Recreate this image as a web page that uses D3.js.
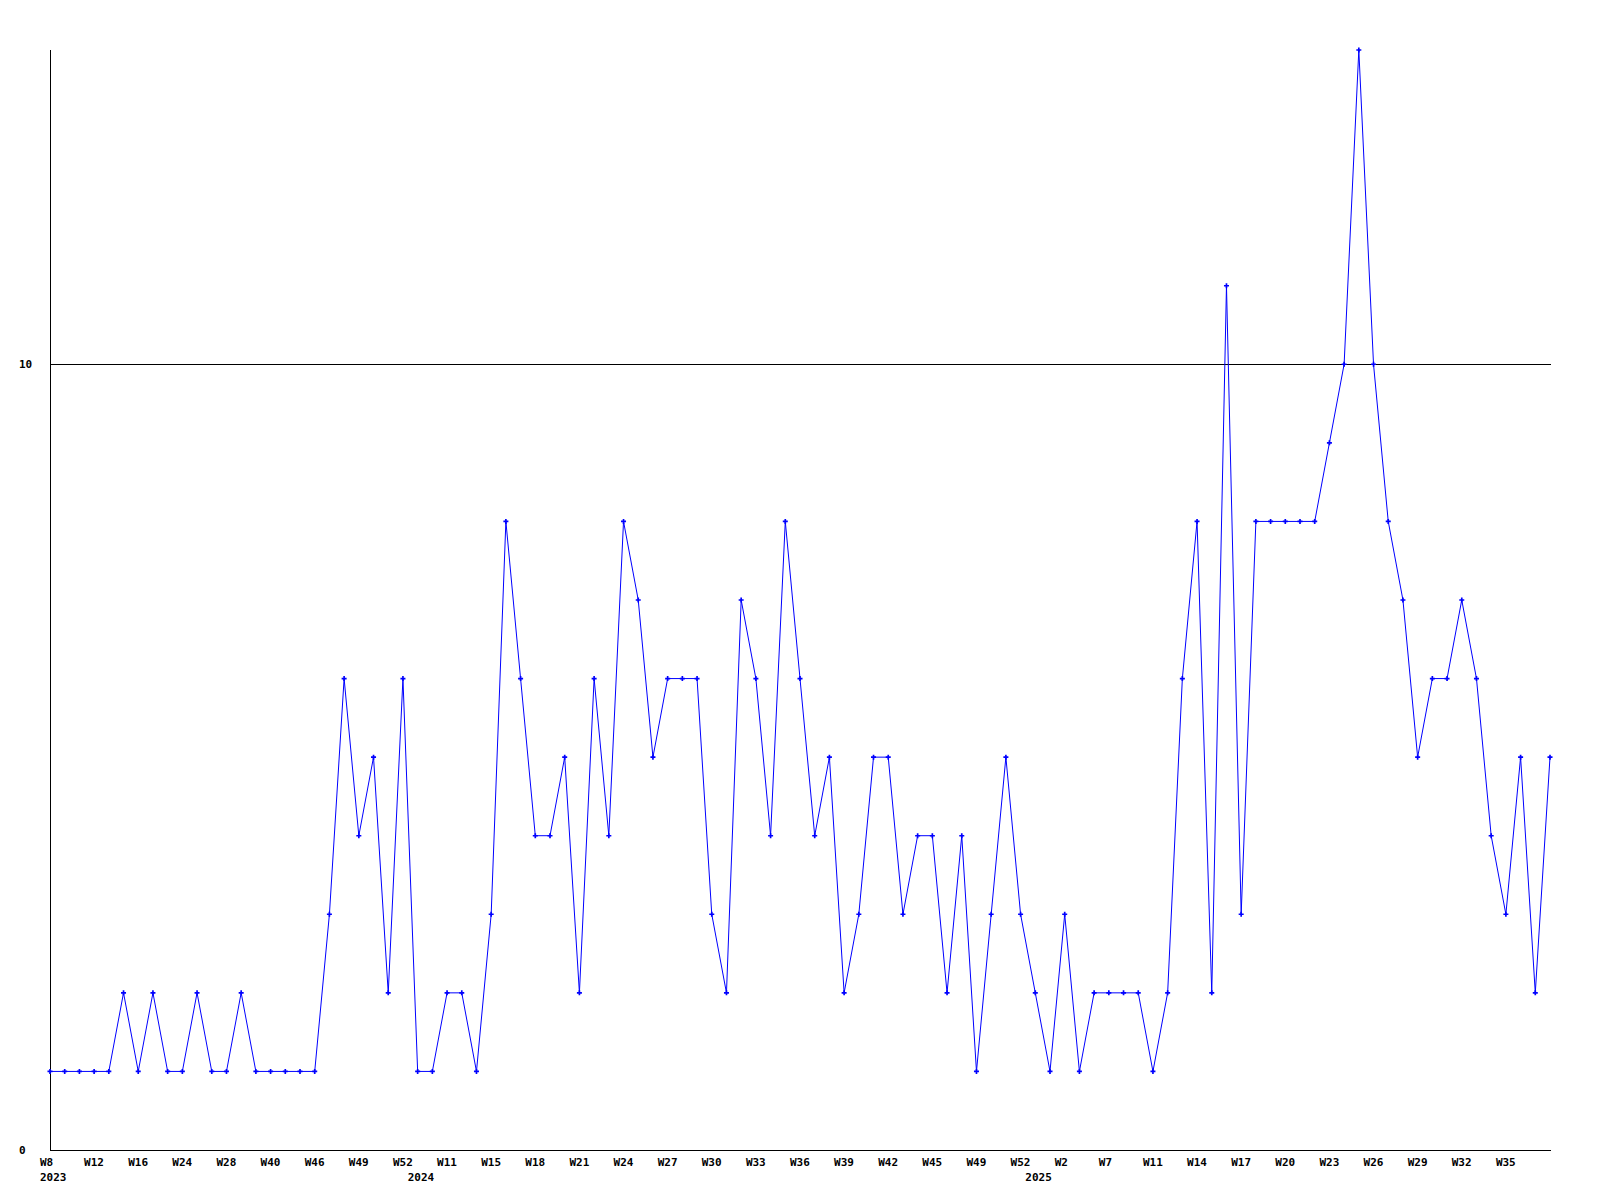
<!DOCTYPE html>
<html>
<head>
<meta charset="utf-8">
<script src="https://cdn.jsdelivr.net/npm/d3@7"></script>
<style>
  html, body { margin: 0; padding: 0; background: #fff; }
  svg { display: block; }
  text { font-family: "DejaVu Sans Mono", "Liberation Mono", monospace; font-weight: bold; font-size: 11px; fill: #000; }
</style>
</head>
<body>
<script>
// Week labels of every data point (unlabeled points have "")
const weekLabels = [
  "W8","","","W12","","","W16","","","W24","","","W28","","","W40","","","W46","","","W49","","","W52",
  "","","W11","","","W15","","","W18","","","W21","","","W24","","","W27","","","W30","","","W33","","",
  "W36","","","W39","","","W42","","","W45","","","W49","","","W52","","","W2","","","W7","","","W11",
  "","","W14","","","W17","","","W20","","","W23","","","W26","","","W29","","","W32","","","W35","","",""
];
// Year labels: index of first point of each year
const yearLabels = [
  { index: 0, label: "2023" },
  { index: 25, label: "2024" },
  { index: 67, label: "2025" }
];
const values = [
  1,1,1,1,1,2,1,2,1,1,2,1,1,2,1,1,1,1,1,3,6,4,5,2,6,
  1,1,2,2,1,3,8,6,4,4,5,2,6,4,8,7,5,6,6,6,3,2,7,6,4,8,6,4,5,2,3,5,5,3,4,4,2,4,1,3,5,3,
  2,1,3,1,2,2,2,2,1,2,6,8,2,11,3,8,8,8,8,8,9,10,14,10,8,7,5,6,6,7,6,4,3,5,2,5
];
const yTicks = [0, 10];
const yMax = 14;

const W = 1600, H = 1200;
const mLeft = 50, mRight = 1550, mTop = 50, mBottom = 1150;

const svg = d3.select("body").append("svg").attr("width", W).attr("height", H);

const idx = d3.range(values.length);
const x = d3.scalePoint().domain(idx).range([mLeft, mRight]);
const y = d3.scaleLinear().domain([0, yMax]).range([mBottom, mTop]);

// gridline at non-zero ticks
svg.selectAll("line.grid").data(yTicks.filter(t => t !== 0)).enter().append("line")
  .attr("x1", mLeft).attr("x2", mRight + 1)
  .attr("y1", d => Math.round(y(d)) + 0.5).attr("y2", d => Math.round(y(d)) + 0.5)
  .attr("stroke", "#000").attr("stroke-width", 1);

// axes lines
svg.append("line").attr("x1", mLeft + 0.5).attr("x2", mLeft + 0.5).attr("y1", mTop).attr("y2", mBottom + 0.5)
  .attr("stroke", "#000").attr("stroke-width", 1);
svg.append("line").attr("x1", mLeft).attr("x2", mRight + 1).attr("y1", mBottom + 0.5).attr("y2", mBottom + 0.5)
  .attr("stroke", "#000").attr("stroke-width", 1);

// y tick labels
svg.selectAll("text.ytick").data(yTicks).enter().append("text")
  .attr("x", 19).attr("y", d => y(d) + 4)
  .text(d => d);

// x week labels
svg.selectAll("text.week").data(idx.filter(i => weekLabels[i] !== "")).enter().append("text")
  .attr("x", i => x(i) - 10).attr("y", 1166)
  .text(i => weekLabels[i]);

// year labels
svg.selectAll("text.year").data(yearLabels).enter().append("text")
  .attr("x", d => x(d.index) - 10).attr("y", 1181)
  .text(d => d.label);

// line
const line = d3.line().x(i => x(i)).y(i => y(values[i]));
svg.append("path").datum(idx).attr("d", line)
  .attr("fill", "none").attr("stroke", "#0000ff").attr("stroke-width", 1);

// markers
const sym = d3.symbol().type(d3.symbolCross).size(14);
svg.selectAll("path.pt").data(idx).enter().append("path")
  .attr("transform", i => `translate(${x(i)},${y(values[i])})`)
  .attr("d", sym).attr("fill", "#0000ff");
</script>
</body>
</html>
